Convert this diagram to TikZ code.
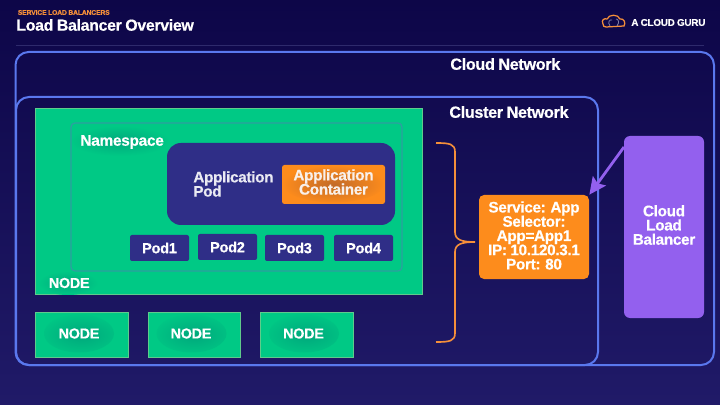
\documentclass[tikz,border=0pt]{standalone}
\usepackage{fontspec}
\setmainfont{Liberation Sans}[BoldFeatures={FakeBold=0.5,LetterSpace=-2},WordSpace=0.85]
\usepackage{tikz}
\usetikzlibrary{arrows.meta,positioning}
\definecolor{bgtop}{HTML}{0D0648}
\definecolor{bgbot}{HTML}{201A68}
\definecolor{netblue}{HTML}{5A78EE}
\definecolor{nodegreen}{HTML}{00C985}
\definecolor{nodeglow}{HTML}{00A87C}
\definecolor{nodeedge}{HTML}{5FCB8C}
\definecolor{nsedge}{HTML}{2E9FA0}
\definecolor{podblue}{HTML}{2F2E87}
\definecolor{acgorange}{HTML}{FD8C1C}
\definecolor{contglow}{HTML}{C26A28}
\definecolor{bracecol}{HTML}{F58F3A}
\definecolor{lbpurple}{HTML}{9360EE}
\definecolor{rulecol}{HTML}{2E2A6C}
\tikzset{
	netbox/.style={draw=netblue,line width=.4mm,rounded corners=2.6mm},
	nodebox/.style={draw=nodeedge,line width=.15mm,fill=nodegreen,minimum height=9mm,inner sep=0pt,
		path picture={\shade[inner color=nodeglow,outer color=nodegreen] ([xshift=-.5mm,yshift=.3mm]path picture bounding box.center) ellipse (7mm and 3.8mm);}},
	podbox/.style={fill=podblue,rounded corners=.4mm,minimum width=11.8mm,minimum height=5.2mm,inner sep=0pt,text=white,font=\bfseries\fontsize{8.3}{9}\selectfont},
	lbl/.style={text=white,font=\bfseries\fontsize{9.2}{10}\selectfont,inner sep=0pt},
	nodelbl/.style={text=white,font=\bfseries\fontsize{8.2}{9}\selectfont,inner sep=0pt},
	stack/.style={text=white,font={\bfseries\fontsize{8.7}{8.1}\selectfont\lineskiplimit-5pt\relax},align=center,inner sep=0pt},
}
\begin{document}
\begin{tikzpicture}[x=.2mm,y=-.2mm]
	\shade[top color=bgtop,bottom color=bgbot] (0,0) rectangle (720,405);
	\useasboundingbox (0,0) rectangle (720,405);

	\node[anchor=west,inner sep=0pt,text=bracecol,font=\bfseries\fontsize{3.85}{4}\selectfont] (kicker) at (17.5,12.5) {SERVICE LOAD BALANCERS};
	\node[anchor=west,inner sep=0pt,text=white,font=\bfseries\fontsize{9.05}{10}\selectfont] (title) at (16,25) {Load Balancer Overview};
	\draw[rulecol,line width=.15mm] (16,45) -- (704,45);

	\draw[bracecol,line width=.25mm] (603,24) .. controls (601,20) and (604,18) .. (607,19) .. controls (609,14) and (618,14) .. (620,19) .. controls (624,18) and (626,23) .. (624,26) -- (606,27) .. controls (604,27) and (603,26) .. (603,24);
	\draw[rulecol!60!white,line width=.15mm] (610,26) .. controls (607,22) and (610,19) .. (612,20) (617,26) .. controls (620,22) and (618,19) .. (616,19);
	\node[anchor=west,inner sep=0pt,text=white,font=\bfseries\fontsize{5.6}{7}\selectfont] (brand) at (631,22.5) {A CLOUD GURU};

	\draw[netbox] (15.5,52) rectangle (714,365);
	\node[lbl,anchor=west] (cloudnet) at (450,64) {Cloud Network};
	\draw[netbox] (16,97) rectangle (598,365);
	\node[lbl,anchor=west] (clusternet) at (449,112) {Cluster Network};

	\node[draw=nodeedge,line width=.15mm,fill=nodegreen,minimum width=77.4mm,minimum height=37.1mm,inner sep=0pt] (bignode) at (228.5,201.5) {};
	\shade[inner color=nodeglow,outer color=nodegreen] (120,141) ellipse (50 and 15);
	\shade[inner color=nodeglow,outer color=nodegreen] (68,283) ellipse (30 and 12);
	\draw[nsedge,line width=.25mm,rounded corners=.8mm] (71,123) rectangle (402,271);
	\node[lbl,anchor=west,font=\bfseries\fontsize{8.8}{10}\selectfont] (nslabel) at (80,142) {Namespace};
	\node[nodelbl,anchor=west] (biglabel) at (48.5,283) {NODE};

	\node[fill=podblue,rounded corners=2.8mm,minimum width=45.6mm,minimum height=16.4mm,inner sep=0pt] (apppod) at (281,184) {};
	\node[stack,anchor=west,align=left,text=white!90!podblue] (podlabel) at (193,184) {Application\\Pod};
	\node[fill=acgorange,rounded corners=.5mm,minimum width=20.6mm,minimum height=7.8mm,inner sep=0pt,
		path picture={\shade[inner color=contglow,outer color=acgorange] (path picture bounding box.center) ellipse (10mm and 3.6mm);}] (container) at (333.5,184.5) {};
	\node[stack,text=white!90!contglow] at (333.5,182) (contlabel) {Application\\Container};

	\node[podbox] (podone) at (159.5,248) {Pod1};
	\node[podbox] (podtwo) at (227.5,247) {Pod2};
	\node[podbox] (podthree) at (294.5,248) {Pod3};
	\node[podbox] (podfour) at (363.5,248) {Pod4};

	\node[nodebox,minimum width=18.6mm] (nodeone) at (81.5,335) {};
	\node[nodebox,minimum width=18.4mm] (nodetwo) at (194,335) {};
	\node[nodebox,minimum width=18.6mm] (nodethree) at (306.5,335) {};
	\node[nodelbl] (labelone) at (79,333.5) {NODE};
	\node[nodelbl] (labeltwo) at (191,333.5) {NODE};
	\node[nodelbl] (labelthree) at (303.5,333.5) {NODE};

	\coordinate (bracetop) at (436,143);
	\coordinate (bracetip) at (475,242);
	\coordinate (bracebot) at (436,342);
	\draw[bracecol,line width=.33mm] (bracetop) .. controls (450,143) and (455,144) .. (455,152) -- (455,232) .. controls (455,240) and (462,242) .. (bracetip) .. controls (462,242) and (455,244) .. (455,252) -- (455,333) .. controls (455,341) and (450,342) .. (bracebot);

	\node[fill=acgorange,rounded corners=1mm,minimum width=22mm,minimum height=16.8mm,inner sep=0pt] (svc) at (534,237) {};
	\node[stack] (svclabel) at (534,235.5) {Service: App\\Selector:\\App=App1\\IP: 10.120.3.1\\Port: 80};

	\node[fill=lbpurple,rounded corners=1.2mm,minimum width=16mm,minimum height=36.4mm,inner sep=0pt] (lb) at (664,227) {};
	\node[stack] (lblabel) at (664,225) {Cloud\\Load\\Balancer};

	\coordinate (lbfoot) at (624,147);
	\draw[lbpurple,line width=.55mm,-{Stealth[length=3.4mm,width=3.2mm,inset=.6mm]}] (lbfoot) -- (svc.north east);
\end{tikzpicture}
\end{document}
